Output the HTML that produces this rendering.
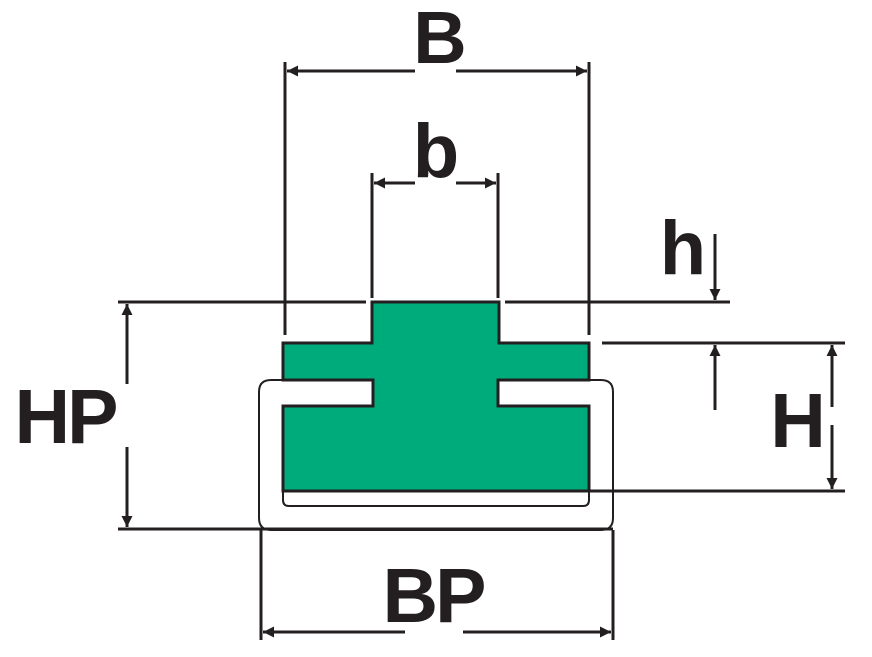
<!DOCTYPE html>
<html><head><style>html,body{margin:0;padding:0;background:#fff}svg{display:block}text{font-family:"Liberation Sans",Arial,sans-serif;font-weight:bold;fill:#231f20}</style></head>
<body>
<svg width="872" height="657" viewBox="0 0 872 657" xmlns="http://www.w3.org/2000/svg">
<defs>
<marker id="a" viewBox="0 0 10 10" refX="10" refY="5" markerWidth="14" markerHeight="11" markerUnits="userSpaceOnUse" orient="auto"><path d="M0,0L10,5L0,10z" fill="#231f20"/></marker>
</defs>
<g stroke="#231f20" fill="none">
<path d="M372,302H499V343H589V380H498V406H589V491H283V406H373V380H283V343H372Z" fill="#00ab7b" stroke-width="3"/>
<path d="M283,380H271Q259,380 259,392V518Q259,530 271,530H601Q613,530 613,518V392Q613,380 601,380H589" stroke-width="2"/>
<path d="M283,491V500Q283,506 289,506H583Q589,506 589,500V491" stroke-width="2"/>
<g stroke-width="3">
<line x1="285" y1="62" x2="285" y2="335"/>
<line x1="589" y1="62" x2="589" y2="335"/>
<line x1="372" y1="173" x2="372" y2="298"/>
<line x1="498" y1="173" x2="498" y2="298"/>
<line x1="118" y1="302" x2="366" y2="302"/>
<line x1="505" y1="302" x2="730" y2="302"/>
<line x1="602" y1="343" x2="845" y2="343"/>
<line x1="589" y1="491" x2="845" y2="491"/>
<line x1="118" y1="529" x2="613" y2="529"/>
<line x1="261" y1="530" x2="261" y2="640"/>
<line x1="613" y1="530" x2="613" y2="640"/>
</g>
<g stroke-width="3" marker-end="url(#a)">
<line x1="415" y1="71" x2="287" y2="71"/>
<line x1="456" y1="71" x2="587" y2="71"/>
<line x1="415" y1="183" x2="374" y2="183"/>
<line x1="456" y1="183" x2="496" y2="183"/>
<line x1="715" y1="234" x2="715" y2="300"/>
<line x1="715" y1="410" x2="715" y2="345"/>
<line x1="832" y1="407" x2="832" y2="345"/>
<line x1="832" y1="425" x2="832" y2="489"/>
<line x1="127" y1="384" x2="127" y2="304"/>
<line x1="127" y1="447" x2="127" y2="527"/>
<line x1="405" y1="632" x2="263" y2="632"/>
<line x1="463" y1="632" x2="611" y2="632"/>
</g>
</g>
<text x="440" y="63" font-size="74" text-anchor="middle">B</text>
<text x="436" y="177" font-size="76" text-anchor="middle">b</text>
<text x="683" y="274" font-size="76" text-anchor="middle">h</text>
<text x="798" y="447" font-size="77" text-anchor="middle">H</text>
<text x="65" y="443" font-size="77" text-anchor="middle" letter-spacing="-3">HP</text>
<text x="433" y="622" font-size="77" text-anchor="middle" letter-spacing="-3">BP</text>
</svg>
</body></html>
